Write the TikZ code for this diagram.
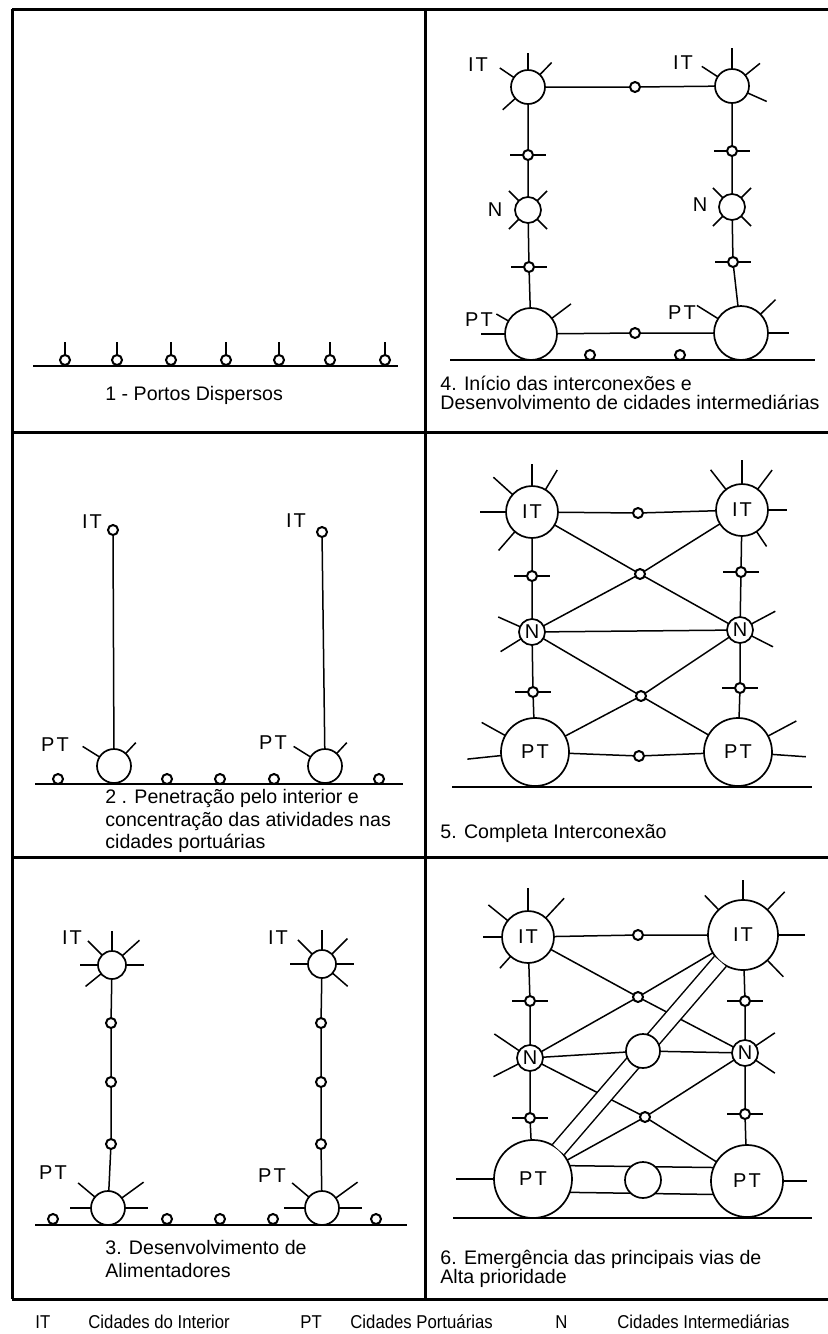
\documentclass[tikz,border=0pt]{standalone}
\usepackage{fontspec}
\setmainfont{Liberation Sans}
\newfontfamily\narrowfont{Liberation Sans}[FakeStretch=0.9]
\usetikzlibrary{calc}
\tikzset{
  frame/.style={line width=1.5pt},
  ln/.style={line width=0.75pt},
  ray/.style={line width=0.75pt},
  city/.style={circle, draw, line width=0.85pt, inner sep=0pt, outer sep=0pt, minimum size=#1, fill=white, font=\fontsize{10}{10}\selectfont},
  dot/.style={circle, draw, line width=1pt, inner sep=0pt, outer sep=0pt, minimum size=5pt, fill=white},
  lbl/.style={inner sep=0pt, font=\fontsize{10}{10}\selectfont},
  txt/.style={inner sep=0pt, anchor=west, font=\fontsize{9.8}{9.8}\selectfont},
  leg/.style={inner sep=0pt, anchor=west, font=\narrowfont\fontsize{9.3}{9.3}\selectfont},
  road/.style={double, double distance=7pt, line width=0.75pt},
}
\newcommand\rays[2]{\foreach \a/\l in {#2}{\draw[ray] (#1.\a) -- ($(#1.center)!\l!(#1.\a)$);}}
\newcommand\xdot[2]{\node[dot] (#1) at (#2) {};\draw[ray] (#1.west) -- ++(-13,0) (#1.east) -- ++(13,0);}
\newcommand\PTtxt{P\kern1.2pt T}
\newcommand\ITtxt{I\kern1pt T}
\begin{document}
\begin{tikzpicture}[x=0.5pt,y=-0.5pt]
\useasboundingbox (0,0) rectangle (827,1334);
% frame
\draw[frame] (12,9) -- (840,9) (12,1299) -- (840,1299) (12,9) -- (12,1299);
\draw[frame] (12,432) -- (840,432) (12,857) -- (840,857) (425,9) -- (425,1299);

% ---------- Panel 1
\draw[ln] (33,366) -- (398,366);
\foreach \i/\x in {1/65,2/117,3/171,4/226,5/279,6/330,7/385}{
  \node[dot] (p1d\i) at (\x,360) {};
  \draw[ray] (p1d\i.north) -- ++(0,-13);
}
\node[txt] (t1) at (105,395) {1 - Portos Dispersos};

% ---------- Panel 2
\node[dot] (p2ITL) at (113,530) {};
\node[dot] (p2ITR) at (322,532) {};
\node[city=17pt] (p2PTL) at (114,766) {};
\node[city=17pt] (p2PTR) at (325,766) {};
\rays{p2PTL}{148/18.5pt,47/16pt}
\rays{p2PTR}{148/18.5pt,47/16pt}
\draw[ln] (p2ITL) -- (p2PTL);
\draw[ln] (p2ITR) -- (p2PTR);
\draw[ln] (35,784) -- (403,784);
\foreach \i/\x in {1/58,2/167,3/220,4/274,5/379}{\node[dot] (p2g\i) at (\x,779) {};}
\node[lbl] (p2lIT1) at (92,522) {\ITtxt};
\node[lbl] (p2lIT2) at (296,521) {\ITtxt};
\node[lbl] (p2lPT1) at (55,745) {\PTtxt};
\node[lbl] (p2lPT2) at (273,743) {\PTtxt};
\node[txt] (t2a) at (105,798) {2 . Penetração pelo interior e};
\node[txt] (t2b) at (105,821) {concentração das atividades nas};
\node[txt] (t2c) at (105,843) {cidades portuárias};

% ---------- Panel 3
\node[city=14pt] (p3ITL) at (112,965) {};
\node[city=14pt] (p3ITR) at (322,964) {};
\rays{p3ITL}{90/17pt,135/17pt,42/18.5pt,180/16pt,0/16pt,219/17pt}
\rays{p3ITR}{90/17pt,135/17pt,45/18pt,180/16pt,0/16pt,319/17pt}
\node[city=17pt] (p3PTL) at (108,1208) {};
\node[city=17pt] (p3PTR) at (322,1208) {};
\rays{p3PTL}{140/19.5pt,36/22pt,180/19pt,0/20pt}
\rays{p3PTR}{140/19.5pt,36/22pt,180/19pt,0/20pt}
\node[dot] (p3a1) at (111,1023) {};
\node[dot] (p3a2) at (111,1082) {};
\node[dot] (p3a3) at (111,1144) {};
\node[dot] (p3b1) at (321,1023) {};
\node[dot] (p3b2) at (321,1082) {};
\node[dot] (p3b3) at (321,1144) {};
\draw[ln] (p3ITL) -- (p3a1) -- (p3a2) -- (p3a3) -- (p3PTL);
\draw[ln] (p3ITR) -- (p3b1) -- (p3b2) -- (p3b3) -- (p3PTR);
\draw[ln] (35,1225) -- (407,1225);
\foreach \i/\x in {1/53,2/167,3/220,4/273,5/376}{\node[dot] (p3g\i) at (\x,1219) {};}
\node[lbl] (p3lIT1) at (72,938) {\ITtxt};
\node[lbl] (p3lIT2) at (278,938) {\ITtxt};
\node[lbl] (p3lPT1) at (53,1173) {\PTtxt};
\node[lbl] (p3lPT2) at (272,1176) {\PTtxt};
\node[txt] (t3a) at (105,1247) {3. Desenvolvimento de};
\node[txt] (t3b) at (105,1270) {Alimentadores};

% ---------- Panel 4
\node[city=17pt] (p4ITL) at (528,87) {};
\node[city=17pt] (p4ITR) at (732,86) {};
\rays{p4ITL}{146/17pt,90/17pt,46/17pt,222/17pt}
\rays{p4ITR}{147/18pt,90/19pt,39/18pt,336/19pt}
\node[city=13pt] (p4NL) at (528,210) {};
\node[city=13pt] (p4NR) at (732,207) {};
\rays{p4NL}{45/13.5pt,135/13.5pt,225/13.5pt,315/13.5pt}
\rays{p4NR}{45/13.5pt,135/13.5pt,225/13.5pt,315/13.5pt}
\node[city=26pt] (p4PTL) at (531,334) {};
\node[city=27pt] (p4PTR) at (741,333) {};
\rays{p4PTL}{150/20pt,37/25pt,180/25pt}
\rays{p4PTR}{148/26pt,44/24pt,0/24pt}
\node[dot] (p4t) at (635,87) {};
\node[dot] (p4b) at (635,333) {};
\xdot{p4a1}{528,155}
\xdot{p4a2}{529,267}
\xdot{p4b1}{732,151}
\xdot{p4b2}{733,262}
\draw[ln] (p4ITL) -- (p4t) -- (p4ITR);
\draw[ln] (p4PTL) -- (p4b) -- (p4PTR);
\draw[ln] (p4ITL) -- (p4a1) -- (p4NL) -- (p4a2) -- (p4PTL);
\draw[ln] (p4ITR) -- (p4b1) -- (p4NR) -- (p4b2) -- (p4PTR);
\draw[ln] (450,360) -- (815,360);
\node[dot] (p4g1) at (590,355) {};
\node[dot] (p4g2) at (680,355) {};
\node[lbl] (p4lIT1) at (478,65) {\ITtxt};
\node[lbl] (p4lIT2) at (683,63) {\ITtxt};
\node[lbl] (p4lN1) at (495,210) {N};
\node[lbl] (p4lN2) at (700,205) {N};
\node[lbl] (p4lPT1) at (479,320) {\PTtxt};
\node[lbl] (p4lPT2) at (682,313) {\PTtxt};
\node[txt] (t4a) at (440,383) {4. Início das interconexões e};
\node[txt] (t4b) at (440,402) {Desenvolvimento de cidades intermediárias};

% ---------- Panel 5
\node[city=26pt] (p5ITL) at (532,512) {\ITtxt};
\node[city=26pt] (p5ITR) at (742,510) {\ITtxt};
\rays{p5ITL}{90/24pt,138/26pt,59/24.5pt,180/26pt,229/25.5pt}
\rays{p5ITR}{90/25pt,128/25.5pt,53/25pt,0/22.5pt,304/22pt}
\node[city=13pt] (p5NL) at (532,632) {N};
\node[city=13pt] (p5NR) at (740,630) {N};
\rays{p5NL}{156/18.5pt,212/18.5pt}
\rays{p5NR}{28/20pt,333/18.5pt}
\node[city=34pt] (p5PTL) at (535,752) {\PTtxt};
\node[city=34pt] (p5PTR) at (738,752) {\PTtxt};
\rays{p5PTL}{151/30.5pt,186/34pt}
\rays{p5PTR}{28/33pt,356/34pt}
\node[dot] (p5t) at (638,513) {};
\node[dot] (p5b) at (639,756) {};
\node[dot] (p5XU) at (640,574) {};
\node[dot] (p5XL) at (641,696) {};
\xdot{p5a1}{532,576}
\xdot{p5a2}{533,692}
\xdot{p5b1}{741,572}
\xdot{p5b2}{740,688}
\draw[ln] (p5ITL) -- (p5t) -- (p5ITR);
\draw[ln] (p5PTL) -- (p5b) -- (p5PTR);
\draw[ln] (p5ITL) -- (p5a1) -- (p5NL) -- (p5a2) -- (p5PTL);
\draw[ln] (p5ITR) -- (p5b1) -- (p5NR) -- (p5b2) -- (p5PTR);
\draw[ln] (p5ITL) -- (p5XU) -- (p5NR);
\draw[ln] (p5ITR) -- (p5XU) -- (p5NL);
\draw[ln] (p5NL) -- (p5XL) -- (p5PTR);
\draw[ln] (p5NR) -- (p5XL) -- (p5PTL);
\draw[ln] (p5NL) -- (p5NR);
\draw[ln] (452,787) -- (812,787);
\node[txt] (t5) at (440,833) {5. Completa Interconexão};

% ---------- Panel 6
\node[city=26pt] (p6ITL) at (528,937) {\ITtxt};
\node[city=35pt] (p6ITR) at (743,935) {\ITtxt};
\rays{p6ITL}{90/24.5pt,141/25.5pt,47/26.5pt,180/22.5pt,228/21pt}
\rays{p6ITR}{90/27.5pt,134/27.5pt,46/30pt,0/31pt,314/29pt}
\node[city=13pt] (p6NL) at (530,1058) {N};
\node[city=13pt] (p6NR) at (745,1053) {N};
\rays{p6NL}{146/21.5pt,207/20.5pt}
\rays{p6NR}{34/18pt,326/18pt}
\node[city=39pt] (p6PTL) at (533,1179) {\PTtxt};
\node[city=36pt] (p6PTR) at (747,1181) {\PTtxt};
\rays{p6PTL}{180/38.5pt}
\rays{p6PTR}{0/30pt}
\node[dot] (p6t) at (638,935) {};
\node[dot] (p6XU) at (638,997) {};
\node[dot] (p6XL) at (645,1117) {};
\xdot{p6a1}{530,1001}
\xdot{p6a2}{530,1118}
\xdot{p6b1}{745,1001}
\xdot{p6b2}{745,1114}
\draw[ln] (p6ITL) -- (p6t) -- (p6ITR);
\draw[ln] (p6ITL) -- (p6a1) -- (p6NL) -- (p6a2) -- (p6PTL);
\draw[ln] (p6ITR) -- (p6b1) -- (p6NR) -- (p6b2) -- (p6PTR);
\draw[ln] (p6ITL) -- (p6XU) -- (p6NR);
\draw[ln] (p6ITR) -- (p6XU) -- (p6NL);
\draw[ln] (p6NL) -- (p6XL) -- (p6PTR);
\draw[ln] (p6NR) -- (p6XL) -- (p6PTL);
\draw[road] (p6PTL) -- (p6ITR);
\node[city=17pt] (p6C) at (643,1051) {};
\draw[ln] (p6NL) -- (p6C) -- (p6NR);
\draw[ln] (p6PTL.20) -- (p6PTR.158);
\draw[ln] (p6PTL.340) -- (p6PTR.202);
\node[city=18pt] (p6B) at (643,1180) {};
\draw[ln] (453,1218) -- (812,1218);
\node[txt] (t6a) at (440,1259) {6. Emergência das principais vias de};
\node[txt] (t6b) at (440,1278) {Alta prioridade};

% ---------- Legend
\node[leg] (l1) at (35,1322) {IT};
\node[leg] (l2) at (88,1322) {Cidades do Interior};
\node[leg] (l3) at (300,1322) {PT};
\node[leg] (l4) at (350,1322) {Cidades Portuárias};
\node[leg] (l5) at (555,1322) {N};
\node[leg] (l6) at (617,1322) {Cidades Intermediárias};
\end{tikzpicture}
\end{document}
